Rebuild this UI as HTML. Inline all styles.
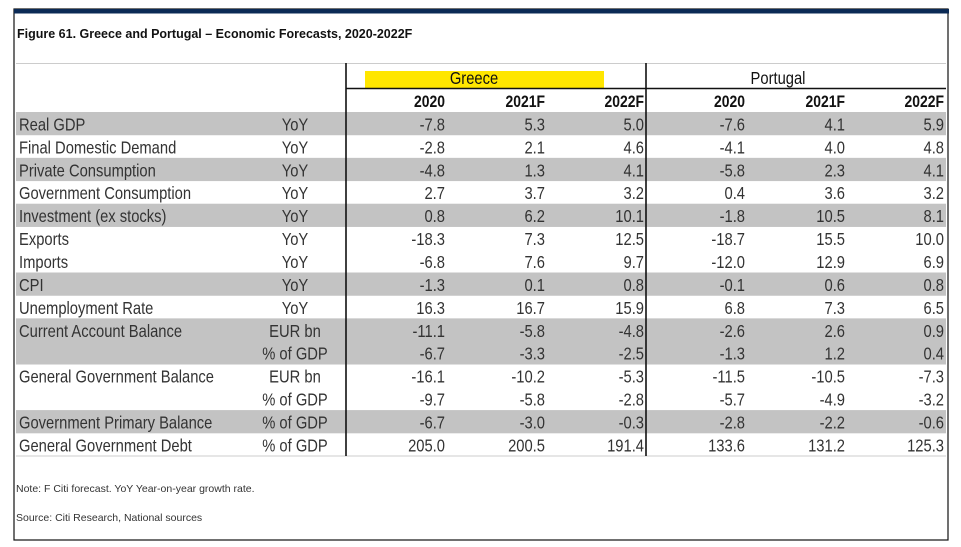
<!DOCTYPE html>
<html><head><meta charset="utf-8"><style>
html,body{margin:0;padding:0;background:#fff;}
svg{display:block;font-family:"Liberation Sans",Arial,sans-serif;}
</style></head><body>
<svg id="c" width="961" height="547" viewBox="0 0 961 547">
<rect x="14" y="9" width="934" height="531" fill="#fff" stroke="#111" stroke-width="1.2"/>
<rect x="14" y="9" width="935" height="4.5" fill="#0b2a55"/>
<text x="17" y="38" font-size="12.5" font-weight="bold" fill="#111">Figure 61. Greece and Portugal – Economic Forecasts, 2020-2022F</text>
<g id="tbl"></g>
<text x="16" y="492" font-size="10.5" fill="#333">Note: F Citi forecast. YoY Year-on-year growth rate.</text>
<text x="16" y="521" font-size="10.5" fill="#333">Source: Citi Research, National sources</text>
</svg>
<script>
const labels=["Real GDP","Final Domestic Demand","Private Consumption","Government Consumption","Investment (ex stocks)","Exports","Imports","CPI","Unemployment Rate","Current Account Balance","","General Government Balance","","Government Primary Balance","General Government Debt"];
const units=["YoY","YoY","YoY","YoY","YoY","YoY","YoY","YoY","YoY","EUR bn","% of GDP","EUR bn","% of GDP","% of GDP","% of GDP"];
const shaded=[1,0,1,0,1,0,0,1,0,1,1,0,0,1,0];
const years=["2020","2021F","2022F","2020","2021F","2022F"];
const greece2020=["-7.8","-2.8","-4.8","2.7","0.8","-18.3","-6.8","-1.3","16.3","-11.1","-6.7","-16.1","-9.7","-6.7","205.0"];
const greece2021=["5.3","2.1","1.3","3.7","6.2","7.3","7.6","0.1","16.7","-5.8","-3.3","-10.2","-5.8","-3.0","200.5"];
const greece2022=["5.0","4.6","4.1","3.2","10.1","12.5","9.7","0.8","15.9","-4.8","-2.5","-5.3","-2.8","-0.3","191.4"];
const portugal2020=["-7.6","-4.1","-5.8","0.4","-1.8","-18.7","-12.0","-0.1","6.8","-2.6","-1.3","-11.5","-5.7","-2.8","133.6"];
const portugal2021=["4.1","4.0","2.3","3.6","10.5","15.5","12.9","0.6","7.3","2.6","1.2","-10.5","-4.9","-2.2","131.2"];
const portugal2022=["5.9","4.8","4.1","3.2","8.1","10.0","6.9","0.8","6.5","0.9","0.4","-7.3","-3.2","-0.6","125.3"];
const series=[greece2020,greece2021,greece2022,portugal2020,portugal2021,portugal2022];

const NS="http://www.w3.org/2000/svg";
const g=document.getElementById('tbl');
const SX=0.82;
const colRight=[445,545,644,745,845,944];
const rowTop=112, rowH=22.93;
function el(t,a){const e=document.createElementNS(NS,t);for(const k in a)e.setAttribute(k,a[k]);g.appendChild(e);return e;}
function txt(x,y,s,anchor,size,weight,fill){
  const e=el('text',{x:(x/SX).toFixed(2),y:y,'font-size':size,'text-anchor':anchor,fill:fill||'#333',transform:'scale('+SX+',1)'});
  if(weight)e.setAttribute('font-weight',weight);
  e.textContent=s;return e;
}
let l=el('line',{x1:16,y1:63.5,x2:946,y2:63.5,stroke:'#ccc','stroke-width':1});


let h=el('rect',{x:365,y:71,width:239,height:18,fill:'#ffe600'});


let t=txt(474,84,'Greece','middle',18,null,'#111');


t=txt(778,84,'Portugal','middle',18,null,'#111');


years.forEach((y,i)=>{
  const e=txt(colRight[i],107,y,'end',17,'bold','#111');
  
  
});
labels.forEach((lab,r)=>{
  const y0=rowTop+r*rowH;
  if(shaded[r]){
    const b=el('rect',{x:16,y:y0,width:930,height:rowH+0.3,fill:'#c3c3c3'});
    
    
  }
  const ty=y0+rowH-4.5;
  if(lab){const a=txt(19,ty,lab,'start',18);
    
    }
  const u=txt(295,ty,units[r],'middle',18);
  
  
  series.forEach((s,c)=>{
    const v=txt(colRight[c],ty,s[r],'end',18);
    
    
  });
});
const bottom=rowTop+labels.length*rowH;
l=el('line',{x1:16,y1:bottom,x2:946,y2:bottom,stroke:'#ccc','stroke-width':1});


l=el('line',{x1:346,y1:88.5,x2:946,y2:88.5,stroke:'#111','stroke-width':1.6});


[346,646].forEach((x,i)=>{
  const v=el('line',{x1:x,y1:63,x2:x,y2:bottom,stroke:'#111','stroke-width':1.6});
  
  
});
</script>
</body></html>
